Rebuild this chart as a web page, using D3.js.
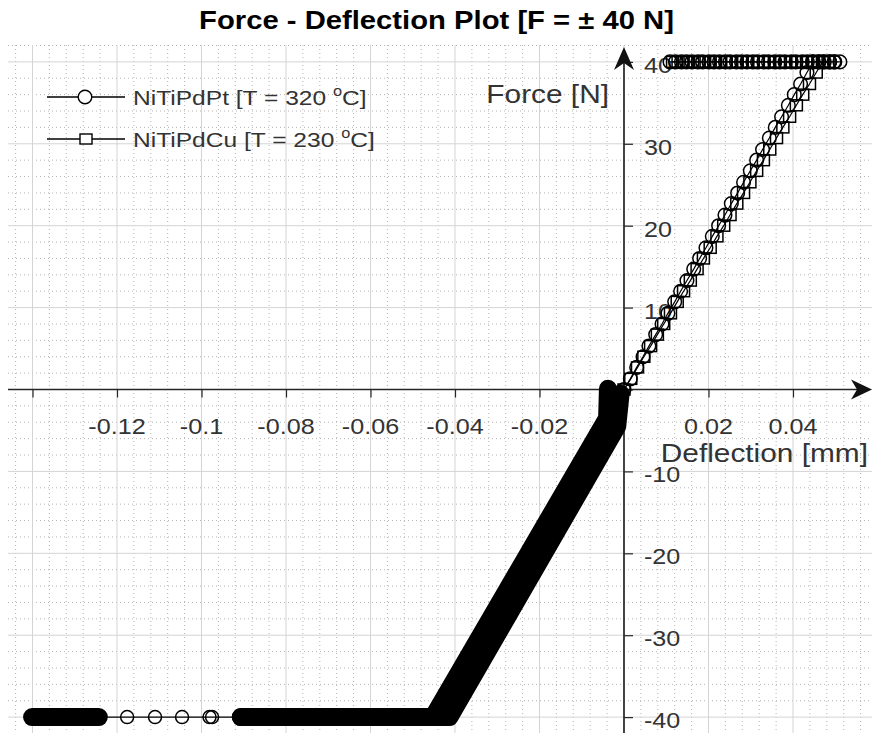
<!DOCTYPE html>
<html>
<head>
<meta charset="utf-8">
<script src="https://cdn.jsdelivr.net/npm/d3@7"></script>
<style>
  html, body { margin: 0; padding: 0; background: #fff; }
  svg { display: block; }
</style>
</head>
<body>
<svg id="chart" width="872" height="733"></svg>
<script>
// ---- data -------------------------------------------------------------
const xTicks = [-0.14, -0.12, -0.10, -0.08, -0.06, -0.04, -0.02, 0, 0.02, 0.04];
const xTickLabels = ["", "-0.12", "-0.1", "-0.08", "-0.06", "-0.04", "-0.02", "", "0.02", "0.04"];
const yTicks = [-40, -30, -20, -10, 0, 10, 20, 30, 40];
const yTickLabels = ["-40", "-30", "-20", "-10", "", "10", "20", "30", "40"];

const seriesNames = ["NiTiPdPt [T = 320 ", "NiTiPdCu [T = 230 "];

// loading branch (force steps, N)
const loadForce = [0, 1.3, 2.7, 4.0, 5.3, 6.7, 8.0, 9.3, 10.7, 12.0, 13.3, 14.7, 16.0, 17.3, 18.7,
  20.0, 21.3, 22.7, 24.0, 25.3, 26.7, 28.0, 29.3, 30.7, 32.0, 33.3, 34.7, 36.0, 37.3, 38.7, 40.0];
// deflection on loading (mm)
const ptLoadDefl = [0, 0.0015, 0.0030, 0.0045, 0.0059, 0.0075, 0.0090, 0.0104, 0.0120, 0.0134, 0.0149,
  0.0165, 0.0179, 0.0194, 0.0209, 0.0224, 0.0239, 0.0254, 0.0269, 0.0283, 0.0299, 0.0314, 0.0328,
  0.0344, 0.0358, 0.0373, 0.0389, 0.0403, 0.0418, 0.0433, 0.0448];
const cuLoadDefl = [0, 0.0016, 0.0032, 0.0047, 0.0063, 0.0079, 0.0094, 0.0110, 0.0126, 0.0141, 0.0157,
  0.0173, 0.0188, 0.0204, 0.0220, 0.0236, 0.0251, 0.0267, 0.0283, 0.0298, 0.0314, 0.0330, 0.0345,
  0.0361, 0.0376, 0.0392, 0.0408, 0.0423, 0.0439, 0.0455, 0.0470];

// hold at +40 N (deflection, mm)
const holdForce = 40;
const ptHoldDefl = [0.0461, 0.0474, 0.0487, 0.0499, 0.0511, 0.0497, 0.0486, 0.0472, 0.0461, 0.0446,
  0.0434, 0.0422, 0.0407, 0.0396, 0.0381, 0.0369, 0.0357, 0.0342, 0.0331, 0.0316, 0.0305, 0.0291,
  0.0278, 0.0266, 0.0251, 0.0240, 0.0226, 0.0213, 0.0201, 0.0186, 0.0175, 0.0161, 0.0148, 0.0136,
  0.0122, 0.0109];
const cuHoldDefl = [0.0483, 0.0470, 0.0459, 0.0446, 0.0432, 0.0421, 0.0408, 0.0394, 0.0383, 0.0370,
  0.0356, 0.0345, 0.0331, 0.0318, 0.0306, 0.0293, 0.0280, 0.0268, 0.0255, 0.0242, 0.0229, 0.0217,
  0.0204, 0.0191, 0.0178, 0.0166, 0.0153, 0.0140, 0.0128, 0.0115];

// reverse branch, densely sampled (deflection mm, force N)
const ptNegDense = [[-0.0038, 0.1], [-0.0040, -3.5], [-0.0452, -40], [-0.0907, -40]];
const ptNegSparseDefl = [-0.0975, -0.0981, -0.1046, -0.1110, -0.1176];
const ptNegTail = [[-0.1243, -40], [-0.1401, -40]];
const cuNegDense = [[-0.0008, -0.5], [-0.0016, -4.5], [-0.0413, -40], [-0.0907, -40]];
const negForce = -40;

// ---- layout -----------------------------------------------------------
const W = 872, H = 733;
const ink = "#262626";
const SX = 1.17;          // horizontal stretch of all text
const FONT = "'Liberation Sans', Arial, Helvetica, sans-serif";

const x = d3.scaleLinear().domain([-0.1458, 0.0587]).range([8, 872]);
const y = d3.scaleLinear().domain([-42, 42]).range([733.5, 45.5]);

const svg = d3.select("#chart").style("font-family", FONT);

function stext(g, tx, ty, str, size, anchor, opts = {}) {
  return g.append("text")
    .attr("transform", `translate(${tx},${ty}) scale(${SX},1)`)
    .attr("text-anchor", anchor)
    .attr("font-size", size)
    .attr("font-weight", opts.bold ? "bold" : null)
    .attr("fill", opts.fill || ink)
    .text(str);
}

// ---- grid -------------------------------------------------------------
const grid = svg.append("g");
const minorX = d3.range(-0.144, 0.0587, 0.004).filter(v => Math.abs(Math.round(v / 0.02) * 0.02 - v) > 1e-6);
const minorY = d3.range(-42, 42.01, 2).filter(v => v % 10 !== 0);
grid.selectAll(".mx").data(minorX).join("line")
  .attr("x1", d => x(d)).attr("x2", d => x(d)).attr("y1", 45).attr("y2", H)
  .attr("stroke", "#b4b4b4").attr("stroke-width", 1).attr("stroke-dasharray", "1,3");
grid.selectAll(".my").data(minorY).join("line")
  .attr("y1", d => y(d)).attr("y2", d => y(d)).attr("x1", 8).attr("x2", W)
  .attr("stroke", "#b4b4b4").attr("stroke-width", 1).attr("stroke-dasharray", "1,3");
grid.selectAll(".gx").data(xTicks).join("line")
  .attr("x1", d => x(d)).attr("x2", d => x(d)).attr("y1", 45).attr("y2", H)
  .attr("stroke", "#d4d4d4").attr("stroke-width", 1);
grid.selectAll(".gy").data(yTicks).join("line")
  .attr("y1", d => y(d)).attr("y2", d => y(d)).attr("x1", 8).attr("x2", W)
  .attr("stroke", "#d4d4d4").attr("stroke-width", 1);

// ---- axes through the origin -----------------------------------------
const axes = svg.append("g");
const x0 = x(0), y0 = y(0);

const xAxis = d3.axisBottom(x).tickValues(xTicks).tickSize(8).tickFormat(() => "");
const gx = axes.append("g").attr("transform", `translate(0,${y0})`).call(xAxis);
gx.select(".domain").remove();
gx.selectAll(".tick line").attr("stroke", ink).attr("stroke-width", 1.2);
xTicks.forEach((v, i) => {
  if (xTickLabels[i]) stext(axes, x(v), y0 + 44.5, xTickLabels[i], 21.5, "middle", { fill: "#333" });
});

const yAxis = d3.axisRight(y).tickValues(yTicks).tickSize(9).tickFormat(() => "");
const gy = axes.append("g").attr("transform", `translate(${x0},0)`).call(yAxis);
gy.select(".domain").remove();
gy.selectAll(".tick line").attr("stroke", ink).attr("stroke-width", 1.2);
yTicks.forEach((v, i) => {
  if (yTickLabels[i]) stext(axes, x0 + 20, y(v) + 11, yTickLabels[i], 21.5, "start", { fill: "#333" });
});

// axis lines with arrow heads
axes.append("line").attr("x1", 8).attr("x2", W - 6).attr("y1", y0).attr("y2", y0)
  .attr("stroke", ink).attr("stroke-width", 1.7);
axes.append("line").attr("x1", x0).attr("x2", x0).attr("y1", H).attr("y2", 56)
  .attr("stroke", ink).attr("stroke-width", 1.7);
axes.append("path")
  .attr("d", `M${W},${y0} L${W - 21},${y0 - 10} L${W - 15},${y0} L${W - 21},${y0 + 10} Z`)
  .attr("fill", "#111");
axes.append("path")
  .attr("d", `M${x0},47 L${x0 - 10},70 L${x0},63 L${x0 + 10},70 Z`)
  .attr("fill", "#111");

// axis titles
stext(axes, 609, 103, "Force [N]", 25.5, "end", { fill: "#333" });
stext(axes, 868, 462, "Deflection [mm]", 25.5, "end", { fill: "#333" });

// ---- data -------------------------------------------------------------
const plot = svg.append("g");
const line = d3.line().x(d => x(d[0])).y(d => y(d[1]));

// reverse branch: dense samples merge into a solid band
[ptNegDense, cuNegDense, ptNegTail].forEach(pts => {
  plot.append("path").attr("d", line(pts)).attr("fill", "none")
    .attr("stroke", "#000").attr("stroke-width", 18)
    .attr("stroke-linecap", "round").attr("stroke-linejoin", "round");
});
const sparsePts = [[-0.0907, negForce]].concat(ptNegSparseDefl.map(d => [d, negForce]), [[-0.1243, negForce]]);
plot.append("path").attr("d", line(sparsePts)).attr("fill", "none")
  .attr("stroke", "#000").attr("stroke-width", 1.2);
plot.selectAll(".sp").data(ptNegSparseDefl).join("circle")
  .attr("cx", d => x(d)).attr("cy", y(negForce)).attr("r", 6.5)
  .attr("fill", "none").attr("stroke", "#000").attr("stroke-width", 1.5);

// loading + hold at +40 N
const ptPos = ptLoadDefl.map((d, i) => [d, loadForce[i]]).concat(ptHoldDefl.map(d => [d, holdForce]));
const cuPos = cuLoadDefl.map((d, i) => [d, loadForce[i]]).concat(cuHoldDefl.map(d => [d, holdForce]));

plot.append("path").attr("d", line(ptPos)).attr("fill", "none").attr("stroke", "#000").attr("stroke-width", 1.2);
plot.append("path").attr("d", line(cuPos)).attr("fill", "none").attr("stroke", "#000").attr("stroke-width", 1.2);

plot.selectAll(".pc").data(ptPos).join("circle")
  .attr("cx", d => x(d[0])).attr("cy", d => y(d[1])).attr("r", 6.8)
  .attr("fill", "none").attr("stroke", "#000").attr("stroke-width", 1.5);
plot.selectAll(".cs").data(cuPos).join("rect")
  .attr("x", d => x(d[0]) - 6).attr("y", d => y(d[1]) - 5.5)
  .attr("width", 12).attr("height", 11)
  .attr("fill", "none").attr("stroke", "#000").attr("stroke-width", 1.5);

// ---- legend -----------------------------------------------------------
const legend = svg.append("g");
const legendRows = [97, 139];
legendRows.forEach((ly, i) => {
  legend.append("line").attr("x1", 47).attr("x2", 125).attr("y1", ly).attr("y2", ly)
    .attr("stroke", "#000").attr("stroke-width", 1.3);
  if (i === 0) {
    legend.append("circle").attr("cx", 85).attr("cy", ly).attr("r", 6.8)
      .attr("fill", "#fff").attr("stroke", "#000").attr("stroke-width", 1.4);
  } else {
    legend.append("rect").attr("x", 80).attr("y", ly - 5).attr("width", 12).attr("height", 10)
      .attr("fill", "#fff").attr("stroke", "#000").attr("stroke-width", 1.4);
  }
  const t = stext(legend, 133, ly + 8, null, 21, "start", { fill: "#333" });
  t.append("tspan").text(seriesNames[i]);
  t.append("tspan").attr("font-size", 14).attr("dy", -9).text("o");
  t.append("tspan").attr("dy", 9).text("C]");
});

// ---- title ------------------------------------------------------------
stext(svg, 436.5, 29, "Force - Deflection Plot [F = \u00b1 40 N]", 25, "middle", { bold: true, fill: "#000" });
</script>
</body>
</html>
